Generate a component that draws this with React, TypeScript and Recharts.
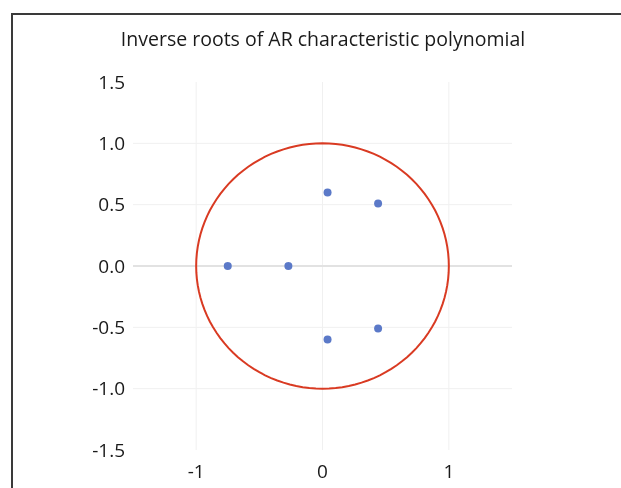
import React from "react";
import {
  ScatterChart,
  Scatter,
  XAxis,
  YAxis,
  CartesianGrid,
  ReferenceLine,
} from "recharts";

const rootRe = [-0.75, -0.27, 0.04, 0.44, 0.04, 0.44];
const rootIm = [0, 0, 0.6, 0.51, -0.6, -0.51];

const xTicks = [-1, 0, 1];
const yTicks = [-1.5, -1.0, -0.5, 0.0, 0.5, 1.0, 1.5];

const roots = rootRe.map((re, i) => ({ x: re, y: rootIm[i] }));

// unit circle reference curve
const circleSteps = 120;
const unitCircle = Array.from({ length: circleSteps + 1 }, (_, i) => {
  const a = (i / circleSteps) * 2 * Math.PI;
  return { x: Math.cos(a), y: Math.sin(a) };
});

const font = "'Open Sans', sans-serif";

const Dot = (props: any) => (
  <circle cx={props.cx} cy={props.cy} r={4} fill="#5b79c8" />
);

export default function App() {
  return (
    <div style={{ position: "relative", width: 613, height: 472 }}>
      <div
        style={{
          position: "fixed",
          left: 11,
          top: 13,
          right: -10,
          bottom: -10,
          borderLeft: "2px solid #3a3a3a",
          borderTop: "2px solid #3a3a3a",
        }}
      />
      <div
        style={{
          position: "absolute",
          left: 0,
          top: 17,
          width: 630,
          textAlign: "center",
          fontFamily: font,
          fontSize: 19.5,
          color: "#1a1a1a",
        }}
      >
        Inverse roots of AR characteristic polynomial
      </div>
      {/* chart runs 8px into the body's bottom margin so the x labels fit */}
      <ScatterChart
        width={613}
        height={480}
        margin={{ top: 74, right: 109, bottom: 8, left: 0 }}
      >
        <CartesianGrid
          stroke="#f0f0f0"
          horizontalValues={[-1, -0.5, 0.5, 1]}
          verticalValues={xTicks}
        />
        <ReferenceLine y={0} stroke="#e2e2e2" strokeWidth={2} />
        <XAxis
          type="number"
          dataKey="x"
          domain={[-1.5, 1.5]}
          ticks={xTicks}
          axisLine={false}
          tickLine={false}
          tickMargin={9}
          height={30}
          tick={{ fill: "#1a1a1a", fontSize: 19, fontFamily: font }}
        />
        <YAxis
          type="number"
          dataKey="y"
          domain={[-1.5, 1.5]}
          ticks={yTicks}
          tickFormatter={(v: number) => v.toFixed(1)}
          axisLine={false}
          tickLine={false}
          width={125}
          tick={{ fill: "#1a1a1a", fontSize: 19, fontFamily: font }}
        />
        <Scatter
          data={unitCircle}
          line={{ stroke: "#d93a22", strokeWidth: 2 }}
          shape={() => <g />}
          isAnimationActive={false}
        />
        <Scatter data={roots} shape={<Dot />} isAnimationActive={false} />
      </ScatterChart>
    </div>
  );
}
